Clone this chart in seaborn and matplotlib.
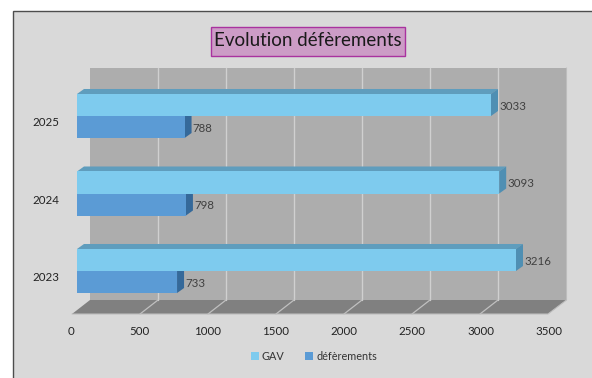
import matplotlib
matplotlib.use('Agg')
import matplotlib.pyplot as plt
from matplotlib.patches import Polygon, Rectangle
from matplotlib.transforms import Affine2D, ScaledTranslation
import pandas as pd
import seaborn as sns

# values
annees = ['2025', '2024', '2023']
gav = [3033, 3093, 3216]
deferements = [788, 798, 733]
ticks = [0, 500, 1000, 1500, 2000, 2500, 3000, 3500]

df = pd.DataFrame({'annee': annees * 2,
                   'valeur': gav + deferements,
                   'serie': ['GAV'] * 3 + ['défèrements'] * 3})

W, H = 592, 378
sns.set_theme(style='white')
plt.rcParams['font.family'] = ['Lato', 'DejaVu Sans']

fig = plt.figure(figsize=(W / 100, H / 100), dpi=100, facecolor='white')
px = Affine2D().scale(1, -1).translate(0, H)  # pixels, origin top left

# bar plane in pixels
X0, SX = 77, 0.1365
Y_TOP, Y_BOT = 77.25, 309.75
ax = fig.add_axes([X0 / W, 1 - Y_BOT / H, 3500 * SX / W, (Y_BOT - Y_TOP) / H])
ax.patch.set_visible(False)

fig.patches.append(Rectangle((12.5, 10.5), 620, 400, transform=px, fc='#d9d9d9', ec='#4d4d4d', lw=1.0, zorder=-1))


def add(points, color, z=0.5):
    ax.add_patch(Polygon(points, closed=True, fc=color, ec='none', transform=px, zorder=z, clip_on=False))


# back wall and floor
WALL_TOP, WALL_BOT, FLOOR = 68, 300, 314
add([(90, WALL_TOP), (566.5, WALL_TOP), (566.5, WALL_BOT), (90, WALL_BOT)], '#adadad', 0.1)
add([(90, WALL_BOT), (566.5, WALL_BOT), (548, FLOOR), (72, FLOOR)], '#808080', 0.1)
for t in ticks[1:-1]:
    xw = 90 + 0.136 * t
    xf = 72 + 0.136 * t
    ax.plot([xw, xw], [WALL_TOP, WALL_BOT], color='#d0d0d0', lw=1.0, transform=px, zorder=0.2, clip_on=False)
    ax.plot([xw, xf], [WALL_BOT, FLOOR], color='#c0c0c0', lw=0.9, transform=px, zorder=0.2, clip_on=False)
ax.plot([72, 548, 566.5, 566.5], [FLOOR, FLOOR, WALL_BOT, WALL_TOP], color='#bdbdbd', lw=0.8,
        transform=px, zorder=0.2, clip_on=False)

sns.barplot(data=df, y='annee', x='valeur', hue='serie', order=annees,
            hue_order=['GAV', 'défèrements'],
            palette={'GAV': '#7ecbee', 'défèrements': '#5b9bd5'},
            saturation=1, width=0.568, gap=0, dodge=True, linewidth=0, ax=ax)

ax.set_xlim(0, 3500)
ax.set_ylim(2.5, -0.5)

# depth of the bars
DX, DY = 7, 5
tr = ax.transData + px.inverted()
for cont, top_col, end_col in zip(ax.containers, ['#5f9dbd', '#35699a'], ['#4f8fb3', '#35699a']):
    for bar in cont:
        (x1, y1) = tr.transform((bar.get_x(), bar.get_y()))
        (x2, y2) = tr.transform((bar.get_x() + bar.get_width(), bar.get_y() + bar.get_height()))
        add([(x1, y1), (x1 + DX, y1 - DY), (x2 + DX, y1 - DY), (x2, y1)], top_col, 0.8)
        add([(x2, y1), (x2 + DX, y1 - DY), (x2 + DX, y2 - DY), (x2, y2)], end_col, 0.8)
    for lab in ax.bar_label(cont, padding=5.8, fontsize=8.3, color='#404040'):
        lab.xyann = (lab.xyann[0], lab.xyann[1] - 1.0)

ax.set_xlabel('')
ax.set_ylabel('')
ax.set_xticks(ticks)
sns.despine(ax=ax, left=True, bottom=True)
ax.tick_params(axis='both', length=0, labelsize=8.3, labelcolor='#222222')
ax.tick_params(axis='y', pad=13)
ax.tick_params(axis='x', pad=11.5)
for lab in ax.get_xticklabels():
    lab.set_transform(lab.get_transform() + ScaledTranslation(-6 / 100, 0, fig.dpi_scale_trans))
for lab in ax.get_yticklabels():
    lab.set_transform(lab.get_transform() + ScaledTranslation(0, -5.5 / 100, fig.dpi_scale_trans))

sns.move_legend(ax, 'center', bbox_to_anchor=(314 / W, 1 - 356 / H), bbox_transform=fig.transFigure,
                ncol=2, title=None, frameon=False, fontsize=7.8, handlelength=0.72, handleheight=0.72,
                handletextpad=0.3, columnspacing=1.9)
for t in ax.get_legend().get_texts():
    t.set_color('#333333')

fig.patches.append(Rectangle((210.5, 26.5), 194, 29, transform=px, fc='#cc9cc6', ec='#a9329f', lw=1))
fig.text(307.5 / W, 1 - 41 / H, 'Evolution défèrements', ha='center', va='center', fontsize=13.5, color='#1a1a1a')

fig.savefig('out.png', dpi=100, facecolor='white')
